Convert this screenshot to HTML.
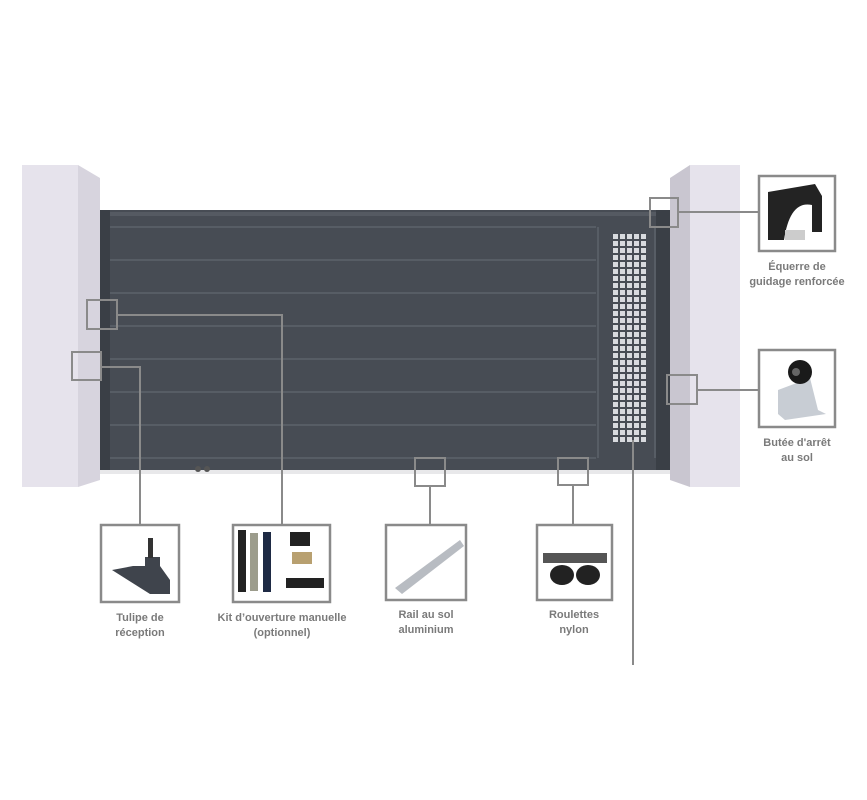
<!DOCTYPE html>
<html><head><meta charset="utf-8"><style>
body{margin:0;background:#fff}
svg{display:block}
text{font-family:"Liberation Sans",sans-serif;font-weight:bold;font-size:11px;fill:#7a7a7a;text-anchor:middle}
</style></head><body>
<svg width="867" height="800" viewBox="0 0 867 800">
<!-- left pillar -->
<rect x="22" y="165" width="56" height="322" fill="#e6e3ec"/>
<polygon points="78,165 100,178 100,480 78,487" fill="#d7d4de"/>
<!-- right pillar -->
<polygon points="670,178 690,165 690,487 670,480" fill="#c9c6d0"/>
<rect x="690" y="165" width="50" height="322" fill="#e6e3ec"/>
<!-- gate -->
<rect x="100" y="210" width="570" height="260" fill="#474c54"/>
<rect x="100" y="210" width="10" height="260" fill="#3a3f46"/>
<rect x="656" y="210" width="14" height="260" fill="#3a3f46"/>
<rect x="110" y="212" width="546" height="4" fill="#555a62"/>
<g stroke="#5d636b" stroke-width="1.5">
<line x1="110" y1="227" x2="596" y2="227"/>
<line x1="110" y1="260" x2="596" y2="260"/>
<line x1="110" y1="293" x2="596" y2="293"/>
<line x1="110" y1="326" x2="596" y2="326"/>
<line x1="110" y1="359" x2="596" y2="359"/>
<line x1="110" y1="392" x2="596" y2="392"/>
<line x1="110" y1="425" x2="596" y2="425"/>
<line x1="110" y1="458" x2="596" y2="458"/>
<line x1="598" y1="227" x2="598" y2="458"/>
<line x1="655" y1="227" x2="655" y2="458"/>
</g>
<defs><pattern id="g" x="613" y="234" width="7" height="7" patternUnits="userSpaceOnUse"><rect width="5" height="5" fill="#d8dade"/></pattern></defs>
<rect x="613" y="234" width="35" height="210" fill="url(#g)"/>
<rect x="100" y="470" width="570" height="4" fill="#e8e8ea"/>
<circle cx="198" cy="469" r="3" fill="#555"/><circle cx="207" cy="469" r="3" fill="#555"/>
<!-- connectors -->
<g fill="none" stroke="#8a8a8a" stroke-width="2">
<rect x="72" y="352" width="29" height="28"/>
<polyline points="101,367 140,367 140,524"/>
<rect x="87" y="300" width="30" height="29"/>
<polyline points="117,315 282,315 282,524"/>
<rect x="415" y="458" width="30" height="28"/>
<line x1="430" y1="486" x2="430" y2="524"/>
<rect x="558" y="458" width="30" height="27"/>
<line x1="573" y1="485" x2="573" y2="524"/>
<line x1="633" y1="440" x2="633" y2="665"/>
<rect x="650" y="198" width="28" height="29"/>
<line x1="678" y1="212" x2="759" y2="212"/>
<rect x="667" y="375" width="30" height="29"/>
<line x1="697" y1="390" x2="759" y2="390"/>
</g>
<g fill="#fff" stroke="#8a8a8a" stroke-width="2.5">
<rect x="101" y="525" width="78" height="77"/>
<rect x="233" y="525" width="97" height="77"/>
<rect x="386" y="525" width="80" height="75"/>
<rect x="537" y="525" width="75" height="75"/>
<rect x="759" y="176" width="76" height="75"/>
<rect x="759" y="350" width="76" height="77"/>
</g>
<!-- product icons -->
<polygon points="112,570 133,566 145,566 145,557 160,557 160,566 170,580 170,594 150,594" fill="#3f444c"/>
<rect x="148" y="538" width="5" height="20" fill="#333"/>
<rect x="238" y="530" width="8" height="62" fill="#222"/>
<rect x="250" y="533" width="8" height="58" fill="#9c9c8c"/>
<rect x="263" y="532" width="8" height="60" fill="#1e2a44"/>
<rect x="290" y="532" width="20" height="14" fill="#222"/>
<rect x="292" y="552" width="20" height="12" fill="#b8a070"/>
<rect x="286" y="578" width="38" height="10" fill="#222"/>
<polygon points="395,588 460,540 464,546 402,594" fill="#b8bcc2"/>
<rect x="543" y="553" width="64" height="10" fill="#555"/>
<ellipse cx="562" cy="575" rx="12" ry="10" fill="#222"/><ellipse cx="588" cy="575" rx="12" ry="10" fill="#222"/>
<path d="M768 192 L815 184 L822 196 L822 232 L812 232 L812 205 Q790 200 784 240 L768 240 Z" fill="#232323"/>
<rect x="785" y="230" width="20" height="10" fill="#ccc"/>
<polygon points="778,390 810,378 818,410 826,414 785,420 778,414" fill="#c8cdd4"/>
<circle cx="800" cy="372" r="12" fill="#1a1a1a"/><circle cx="796" cy="372" r="4" fill="#666"/>
<!-- labels -->
<text x="140" y="621">Tulipe de</text>
<text x="140" y="636">réception</text>
<text x="282" y="621">Kit d’ouverture manuelle</text>
<text x="282" y="636">(optionnel)</text>
<text x="426" y="618">Rail au sol</text>
<text x="426" y="633">aluminium</text>
<text x="574" y="618">Roulettes</text>
<text x="574" y="633">nylon</text>
<text x="797" y="270">Équerre de</text>
<text x="797" y="285">guidage renforcée</text>
<text x="797" y="446">Butée d'arrêt</text>
<text x="797" y="461">au sol</text>
</svg>
</body></html>
